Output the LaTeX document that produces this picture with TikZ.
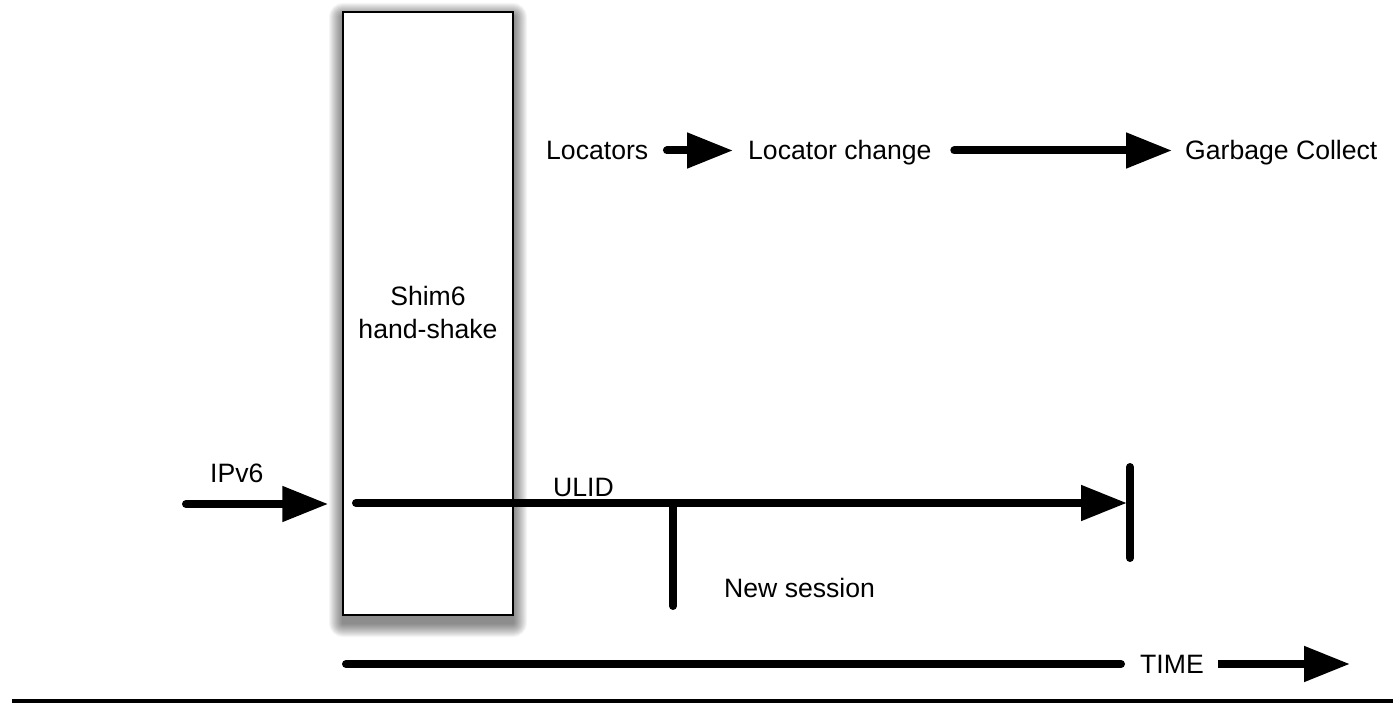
\documentclass[tikz,border=0pt]{standalone}
\usepackage{fontspec}
\setmainfont{Liberation Sans}
\usetikzlibrary{arrows.meta,calc}
\begin{document}
\begin{tikzpicture}[x=1pt,y=-1pt,
  lbl/.style={inner sep=0pt,anchor=base west,text height=19pt,text depth=0pt,
    font=\fontsize{26.6}{33}\selectfont},
  thick line/.style={line width=8pt,line cap=round},
  arr/.style={thick line,-{Triangle[length=46pt,width=34pt]}},
  shimbox/.style={draw=black,line width=1.5pt,fill=white,minimum width=170pt,
    minimum height=603pt,inner sep=0pt}]
\useasboundingbox (0,0) rectangle (1393,703);
\fill[white] (0,0) rectangle (1393,703);

% soft shadow of the box
\foreach \r in {1,...,14}{
  \fill[black,opacity=0.04,rounded corners=\r pt]
    (343-\r,17-\r) rectangle (513+\r,623+\r);
}
% Shim6 box
\node[shimbox] (box) at (428,313.5) {};
\node[lbl,anchor=base] (shim) at (428,306) {Shim6};
\node[lbl,anchor=base] (hand) at (428,339) {hand-shake};

% top row
\node[lbl] (loc) at (546,160) {Locators};
\node[lbl] (locch) at (748,160) {Locator change};
\node[lbl] (gc) at (1185,160) {Garbage Collect};
\draw[arr,shorten <=18.5pt,shorten >=15pt] (loc.east) -- (locch.west);
\draw[arr,shorten <=22.5pt,shorten >=13pt] (locch.east) -- (gc.west);

% IPv6 and ULID
\node[lbl] (ipv6) at (210,482) {IPv6};
\node[lbl] (ulid) at (553,496) {ULID};
\coordinate (ipin) at (186,504);
\draw[arr,shorten >=14pt] (ipin) -- (ipin -| box.west);
\coordinate (ulstart) at (356,503);
\coordinate (bartop) at (1130,467);
\coordinate (barbot) at (1130,558);
\draw[thick line] (bartop) -- (barbot);
\draw[arr,shorten >=3pt] (ulstart) -- (ulstart -| bartop);

% new session
\coordinate (nstop) at (673,503);
\coordinate (nsbot) at (673,606);
\draw[thick line] (nstop) -- (nsbot);
\node[lbl] (newsess) at (724,597) {New session};

% time axis
\node[lbl] (time) at (1140,673.5) {TIME};
\coordinate (tstart) at (346,664);
\coordinate (tend) at (1350,664);
\draw[thick line,shorten >=19pt] (tstart) -- (tstart -| time.west);
\draw[arr,line cap=butt,shorten <=14pt] (time.east) -- (tend);

% bottom rule
\coordinate (rulel) at (12,701);
\coordinate (ruler) at (1393,701);
\draw[line width=5pt] (rulel) -- (ruler);
\end{tikzpicture}
\end{document}
